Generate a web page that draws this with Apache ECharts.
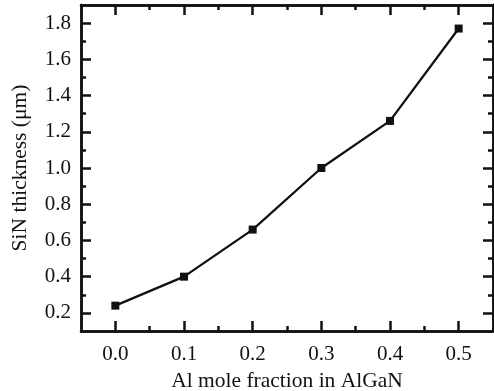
<!DOCTYPE html>
<html>
<head>
<meta charset="utf-8">
<script src="https://cdn.jsdelivr.net/npm/echarts@6/dist/echarts.min.js"></script>
<style>html,body{margin:0;padding:0;background:#fff}#c{width:494px;height:391px}</style>
</head>
<body>
<div id="c"></div>
<script>
var xValues = [0.0, 0.1, 0.2, 0.3, 0.4, 0.5];
var thickness = [0.24, 0.40, 0.66, 1.00, 1.26, 1.77];
var xMajorTicks = [0.0, 0.1, 0.2, 0.3, 0.4, 0.5];
var xMinorTicks = [0.05, 0.15, 0.25, 0.35, 0.45];
var yMajorTicks = [0.2, 0.4, 0.6, 0.8, 1.0, 1.2, 1.4, 1.6, 1.8];
var yMinorTicks = [0.3, 0.5, 0.7, 0.9, 1.1, 1.3, 1.5, 1.7];
var xTitle = 'Al mole fraction in AlGaN';
var yTitle = 'SiN thickness (\u03bcm)';

var FONT = 'Liberation Serif';
var FS = 21;
var FST = 21.5;
var XMIN = -0.05, XMAX = 0.55, YMIN = 0.1, YMAX = 1.9;
var LW = 2.5;

function xAx(pos, ticks, len, showLabel, extra) {
  var a = {
    type: 'value', position: pos, min: XMIN, max: XMAX,
    splitLine: {show: false},
    axisLine: {show: true, onZero: false, lineStyle: {color: '#111', width: LW}},
    axisTick: {show: true, inside: true, length: len, customValues: ticks, lineStyle: {color: '#111', width: LW}},
    axisLabel: {show: showLabel, customValues: ticks, margin: 13, color: '#111', fontFamily: FONT, fontSize: FS,
      formatter: function (v) { return v.toFixed(1); }}
  };
  for (var k in extra) a[k] = extra[k];
  return a;
}
function yAx(pos, ticks, len, showLabel, extra) {
  var a = {
    type: 'value', position: pos, min: YMIN, max: YMAX,
    splitLine: {show: false},
    axisLine: {show: true, onZero: false, lineStyle: {color: '#111', width: LW}},
    axisTick: {show: true, inside: true, length: len, customValues: ticks, lineStyle: {color: '#111', width: LW}},
    axisLabel: {show: showLabel, customValues: ticks, margin: 10, color: '#111', fontFamily: FONT, fontSize: FS,
      formatter: function (v) { return v.toFixed(1); }}
  };
  for (var k in extra) a[k] = extra[k];
  return a;
}

var chart = echarts.init(document.getElementById('c'), null, {renderer: 'canvas'});
chart.setOption({
  animation: false,
  backgroundColor: '#fff',
  grid: {left: 81, right: 1, top: 5, bottom: 60, containLabel: false, outerBoundsMode: 'none'},
  xAxis: [
    xAx('bottom', xMajorTicks, 10, true, {
      name: xTitle, nameLocation: 'middle', nameGap: 27,
      nameTextStyle: {color: '#111', fontFamily: FONT, fontSize: FST}
    }),
    xAx('bottom', xMinorTicks, 5, false, {}),
    xAx('top', xMajorTicks, 10, false, {}),
    xAx('top', xMinorTicks, 5, false, {})
  ],
  yAxis: [
    yAx('left', yMajorTicks, 10, true, {
      name: yTitle, nameLocation: 'middle', nameGap: 50,
      nameTextStyle: {color: '#111', fontFamily: FONT, fontSize: FST}
    }),
    yAx('left', yMinorTicks, 5, false, {}),
    yAx('right', yMajorTicks, 10, false, {}),
    yAx('right', yMinorTicks, 5, false, {})
  ],
  series: [{
    type: 'line',
    xAxisIndex: 0, yAxisIndex: 0,
    data: xValues.map(function (x, i) { return [x, thickness[i]]; }),
    symbol: 'rect', symbolSize: 8,
    lineStyle: {color: '#111', width: 2.3},
    itemStyle: {color: '#111'}
  }]
});
</script>
</body>
</html>
